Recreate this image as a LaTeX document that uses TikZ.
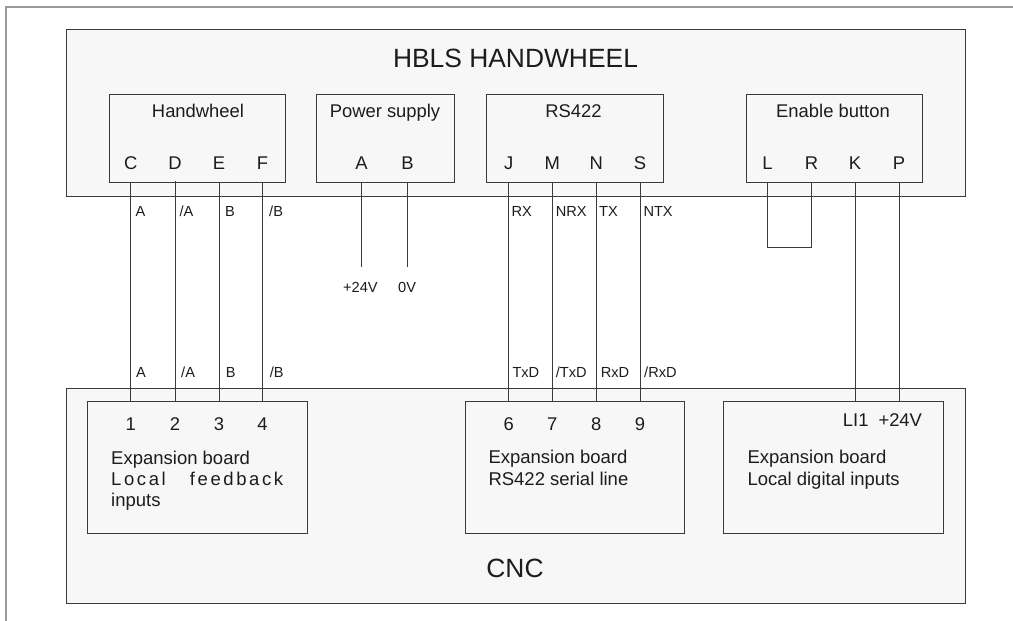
\documentclass[tikz,border=0pt]{standalone}
\usepackage{fontspec}
\setmainfont{Liberation Sans}
\definecolor{ink}{HTML}{1C1C1C}
\definecolor{wire}{HTML}{3A3A3A}
\definecolor{panel}{HTML}{F7F7F7}
\definecolor{framegray}{HTML}{999999}
\tikzset{
  panelbox/.style={draw=wire,fill=panel,line width=0.9pt,inner sep=0pt,anchor=north west},
  wireline/.style={draw=wire,line width=0.9pt},
  framerule/.style={draw=framegray,line width=1.8pt},
  txt/.style={inner sep=0pt,text=ink,anchor=base},
  small/.style={txt,anchor=base west,font=\fontsize{14.6}{14.6}\selectfont},
  pin/.style={txt,font=\fontsize{18.4}{18.4}\selectfont},
  pinw/.style={txt,anchor=base west,font=\fontsize{18.4}{18.4}\selectfont},
  blocktxt/.style={txt,anchor=base west,align=left,font=\fontsize{18.5}{21.3}\selectfont},
  bigtxt/.style={txt,font=\fontsize{26.4}{26.4}\selectfont}
}
\begin{document}
\begin{tikzpicture}[x=1pt,y=-1pt]
\useasboundingbox (0,0) rectangle (1013,621);
\draw[framerule] (6,621) -- (6,6.7) -- (1013,6.7);
% outer boxes
\node[panelbox,minimum width=899.5pt,minimum height=167pt] (hbls) at (65.5,28.5) {};
\node[panelbox,minimum width=899.5pt,minimum height=215pt] (cnc) at (65.5,388) {};
\node[bigtxt] (hblst) at (515.5,67.3) {HBLS HANDWHEEL};
\node[bigtxt] (cnct) at (515,577.7) {CNC};
% handwheel-side boxes
\node[panelbox,minimum width=176.5pt,minimum height=88.5pt] (hw) at (108.5,93.5) {};
\node[panelbox,minimum width=138.5pt,minimum height=88.5pt] (pw) at (315.5,93.5) {};
\node[panelbox,minimum width=176.5pt,minimum height=88.5pt] (rs) at (486,93.5) {};
\node[panelbox,minimum width=176pt,minimum height=88.5pt] (en) at (745.5,93.5) {};
\node[pin] (hwt) at (198,117) {Handwheel};
\node[pin] (pwt) at (385,117) {Power supply};
\node[pin] (rst) at (573.5,117) {RS422};
\node[pin] (ent) at (833,117) {Enable button};
% pins on top
\node[pin] (pC) at (130.7,169) {C};
\node[pin] (pD) at (175,169) {D};
\node[pin] (pE) at (219,169) {E};
\node[pin] (pF) at (262.5,169) {F};
\node[pin] (pA) at (361.5,169) {A};
\node[pin] (pB) at (407.5,169) {B};
\node[pin] (pJ) at (508.7,169) {J};
\node[pin] (pM) at (552.3,169) {M};
\node[pin] (pN) at (596.3,169) {N};
\node[pin] (pS) at (640,169) {S};
\node[pin] (pL) at (767.5,169) {L};
\node[pin] (pR) at (811.5,169) {R};
\node[pin] (pK) at (855,169) {K};
\node[pin] (pP) at (899,169) {P};
% CNC-side boards
\node[panelbox,minimum width=219.7pt,minimum height=132.3pt] (b1) at (87,400.7) {};
\node[panelbox,minimum width=219.8pt,minimum height=132.3pt] (b2) at (464.5,400.7) {};
\node[panelbox,minimum width=220pt,minimum height=132.3pt] (b3) at (723.3,400.7) {};
\node[pin] (n1) at (130.7,430) {1};
\node[pin] (n2) at (175,430) {2};
\node[pin] (n3) at (219,430) {3};
\node[pin] (n4) at (262.5,430) {4};
\node[pin] (n6) at (508.7,430) {6};
\node[pin] (n7) at (552.3,430) {7};
\node[pin] (n8) at (596.3,430) {8};
\node[pin] (n9) at (640,430) {9};
\node[pinw] (li) at (842.7,426) {LI1};
\node[pinw] (v24b) at (878.3,426) {+24V};
\node[blocktxt] (t1) at (111,506.7) {Expansion board\\\makebox[172pt][s]{\addfontfeature{LetterSpace=14}Local\hfill feedback}\\inputs};
\node[blocktxt] (t2) at (488.3,485) {Expansion board\\RS422 serial line};
\node[blocktxt] (t3) at (747.3,485) {Expansion board\\Local digital inputs};
% wires
\coordinate (e24) at (361.5,266.7);
\coordinate (e0) at (407.5,266.7);
\coordinate (lb) at (767.5,247.5);
\draw[wireline] (pC |- hw.south) -- (n1 |- b1.north);
\draw[wireline] ([yshift=2pt]pD |- hw.south) -- (n2 |- b1.north);
\draw[wireline] (pE |- hw.south) -- (n3 |- b1.north);
\draw[wireline] (pF |- hw.south) -- (n4 |- b1.north);
\draw[wireline] (pA |- pw.south) -- (e24);
\draw[wireline] (pB |- pw.south) -- (e0);
\draw[wireline] (pJ |- rs.south) -- (n6 |- b2.north);
\draw[wireline] (pM |- rs.south) -- (n7 |- b2.north);
\draw[wireline] (pN |- rs.south) -- (n8 |- b2.north);
\draw[wireline] (pS |- rs.south) -- (n9 |- b2.north);
\draw[wireline] (pL |- en.south) -- (lb) -- (pR |- lb) -- (pR |- en.south);
\draw[wireline] (pK |- en.south) -- (pK |- b3.north);
\draw[wireline] (pP |- en.south) -- (pP |- b3.north);
% wire labels
\node[small] (la1) at (135.3,216) {A};
\node[small] (la2) at (179.3,216) {/A};
\node[small] (la3) at (225,216) {B};
\node[small] (la4) at (269,216) {/B};
\node[small] (la5) at (511.3,216) {RX};
\node[small] (la6) at (555.7,216) {NRX};
\node[small] (la7) at (599,216) {TX};
\node[small] (la8) at (643.3,216) {NTX};
\node[small] (v24) at (343,292) {+24V};
\node[small] (v0) at (398,292) {0V};
\node[small] (lc1) at (136,377) {A};
\node[small] (lc2) at (181,377) {/A};
\node[small] (lc3) at (225.7,377) {B};
\node[small] (lc4) at (269.7,377) {/B};
\node[small] (lc5) at (512.3,377) {TxD};
\node[small] (lc6) at (555.7,377) {/TxD};
\node[small] (lc7) at (600.7,377) {RxD};
\node[small] (lc8) at (644,377) {/RxD};
\end{tikzpicture}
\end{document}
